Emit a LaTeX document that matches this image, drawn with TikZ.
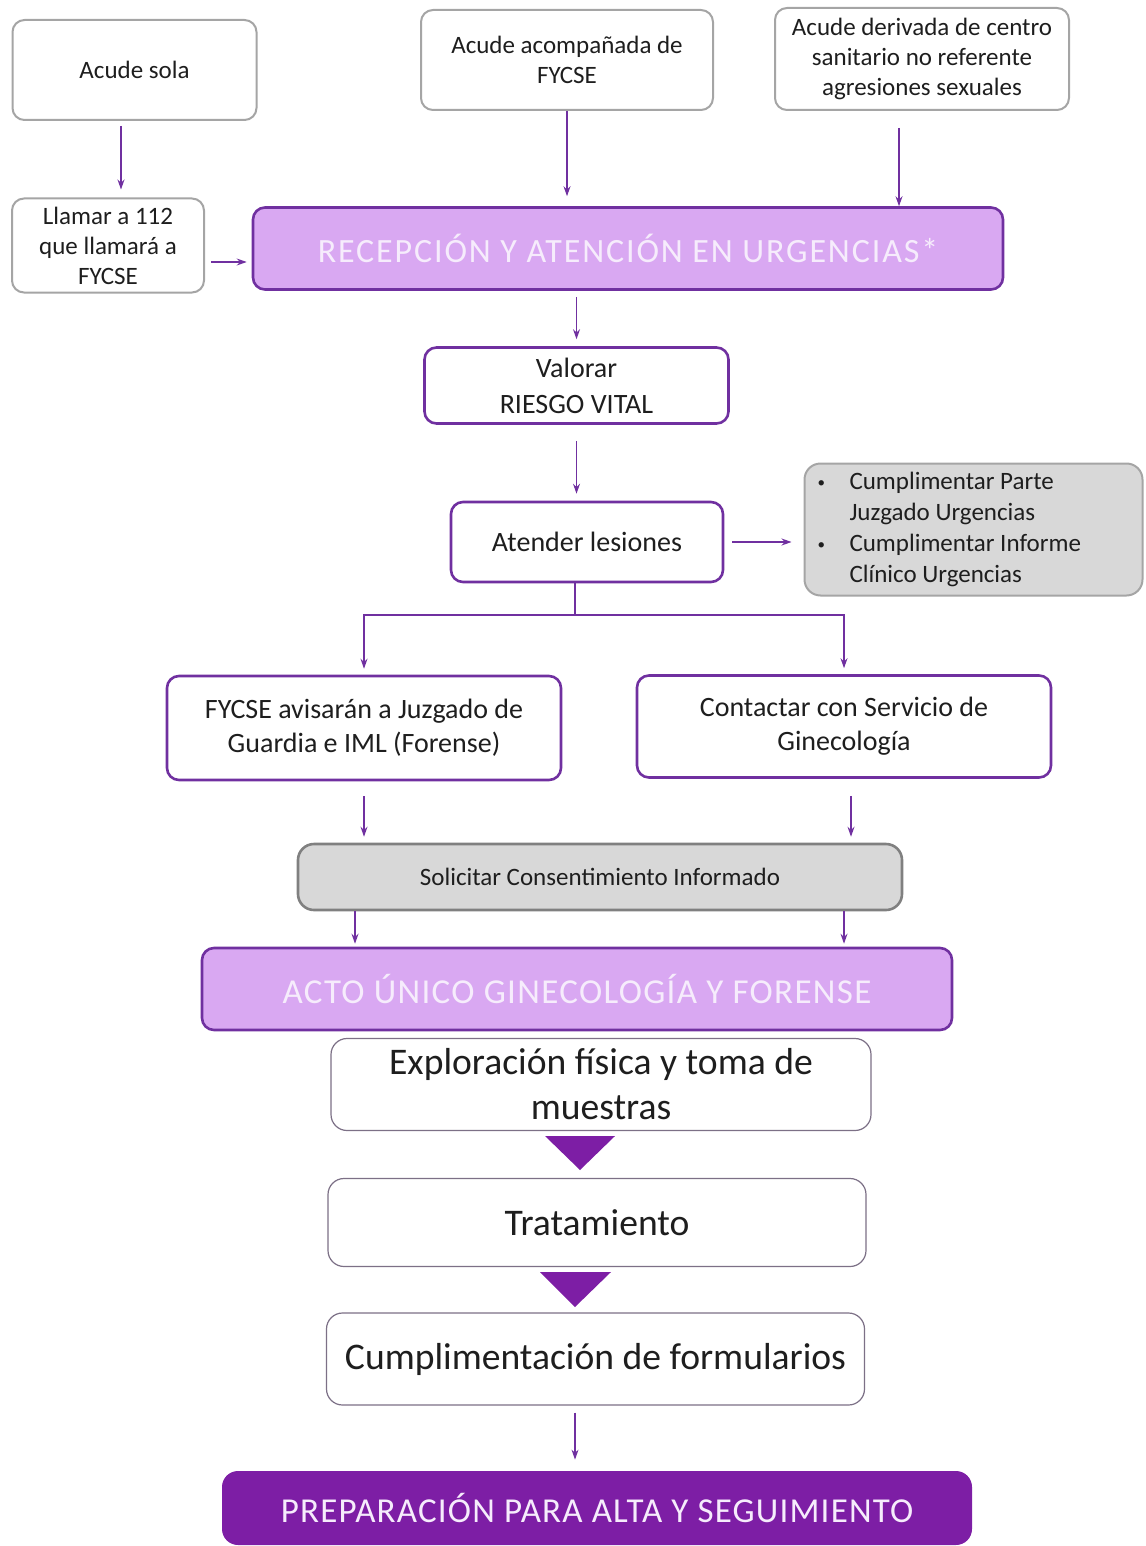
\documentclass[tikz,border=0pt]{standalone}
\usepackage{fontspec}
\usepackage{graphicx}
\setmainfont{Carlito}
\usetikzlibrary{arrows.meta, calc}
\definecolor{violetline}{RGB}{112,48,160}
\definecolor{lilac}{RGB}{217,168,242}
\definecolor{lilactext}{RGB}{246,236,252}
\definecolor{deeppurple}{RGB}{125,30,165}
\definecolor{boxgray}{RGB}{165,165,165}
\definecolor{notegray}{RGB}{216,216,216}
\definecolor{textdark}{RGB}{30,30,30}
\newcommand{\dotitem}{\makebox[16pt][l]{\raisebox{0.15ex}{\scalebox{0.6}{\textbullet}}}}

\begin{document}
\begin{tikzpicture}[x=0.5pt,y=-0.5pt,
  entrybox/.style={draw=boxgray, line width=1pt, rounded corners=6pt, fill=white, align=center, text=textdark, font=\fontsize{12.5}{15}\selectfont},
  taskbox/.style={draw=violetline, line width=1.3pt, rounded corners=6pt, fill=white, align=center, text=textdark, font=\fontsize{14}{17}\selectfont},
  phasebox/.style={draw=violetline, line width=1.3pt, rounded corners=6pt, fill=lilac, text=lilactext, font=\fontsize{17}{19}\selectfont\addfontfeature{LetterSpace=5.5}},
  notebox/.style={draw=boxgray, line width=1pt, rounded corners=8pt, fill=notegray, text=textdark},
  actbox/.style={draw=gray!80!violetline, line width=0.6pt, rounded corners=8pt, fill=white, align=center, text=textdark, font=\fontsize{18.8}{22.5}\selectfont},
  arr/.style={-{Stealth[length=5pt,width=3.5pt]}, draw=violetline, line width=0.6pt},
]
\useasboundingbox (0,0) rectangle (1145,1546);

% ways of arriving
\node[entrybox, minimum width=122pt, minimum height=50pt] (sola) at (134.5,70) {Acude sola};
\node[entrybox, minimum width=146pt, minimum height=50pt] (acomp) at (567,60) {Acude acompañada de\\FYCSE};
\node[entrybox, minimum width=147pt, minimum height=51pt] (deriv) at (922,59) {Acude derivada de centro\\sanitario no referente\\agresiones sexuales};
\node[entrybox, minimum width=96pt, minimum height=47pt, inner sep=1pt] (llamar) at (108,245.5) {Llamar a 112\\que llamará a\\FYCSE};

% urgencias
\node[phasebox, minimum width=375pt, minimum height=41pt] (recep) at (628,248.5) {RECEPCIÓN Y ATENCIÓN EN URGENCIAS*};
\node[taskbox, minimum width=152pt, minimum height=38pt, font=\fontsize{14}{18}\selectfont] (valorar) at (576.5,385.5) {Valorar\\RIESGO VITAL};
\node[taskbox, minimum width=136pt, minimum height=40pt] (atender) at (587,542) {Atender lesiones};
\node[notebox, minimum width=169pt, minimum height=66pt, text width=156pt, align=flush left, font=\fontsize{12.5}{15.5}\selectfont] (partes) at (973.5,529.5)
  {\dotitem Cumplimentar Parte\\\hspace*{16pt}Juzgado Urgencias\\\dotitem Cumplimentar Informe\\\hspace*{16pt}Clínico Urgencias};

\node[taskbox, minimum width=197pt, minimum height=52pt] (fycse) at (364,728) {FYCSE avisarán a Juzgado de\\Guardia e IML (Forense)};
\node[taskbox, minimum width=207pt, minimum height=51pt] (contactar) at (844,726.5) {Contactar con Servicio de\\Ginecología};
\node[notebox, draw=gray, line width=1.3pt, minimum width=302pt, minimum height=33pt, font=\fontsize{12.5}{14}\selectfont] (consent) at (600,877) {Solicitar Consentimiento Informado};

% acto unico
\node[phasebox, minimum width=375pt, minimum height=41pt, font=\fontsize{17.5}{19}\selectfont\addfontfeature{LetterSpace=3.8}] (acto) at (577,989) {ACTO ÚNICO GINECOLOGÍA Y FORENSE};
\node[actbox, minimum width=270pt, minimum height=46pt] (explor) at (601,1084.5) {Exploración física y toma de\\muestras};
\node[actbox, minimum width=269pt, minimum height=44pt] (trat) at (597,1222.5) {Tratamiento};
\node[actbox, minimum width=269pt, minimum height=46pt] (cumpl) at (595.5,1359) {Cumplimentación de formularios};
\node[fill=deeppurple, rounded corners=8pt, text=lilactext, minimum width=375pt, minimum height=37pt, font=\fontsize{17.5}{19}\selectfont\addfontfeature{LetterSpace=3.4}] (prep) at (597,1508) {PREPARACIÓN PARA ALTA Y SEGUIMIENTO};

\fill[deeppurple] (545,1136) -- (615,1136) -- (580,1170) -- cycle;
\fill[deeppurple] (540,1272) -- (611,1272) -- (575,1307) -- cycle;

% connectors
\draw[arr, shorten <=2.5pt, shorten >=4pt] ([xshift=-6.75pt]sola.south) -- ([xshift=-6.75pt]sola.south |- llamar.north);
\draw[arr, shorten >=5pt] (acomp.south) -- (acomp.south |- recep.north);
\draw[arr, shorten <=8.5pt] ([xshift=-11.5pt]deriv.south) -- ([xshift=-11.5pt]deriv.south |- recep.north);
\draw[arr, shorten <=3pt, shorten >=2.5pt] ([yshift=-8.25pt]llamar.east) -- ([yshift=-8.25pt]llamar.east -| recep.west);
\draw[arr, shorten <=3pt, shorten >=3.5pt] (valorar.north |- recep.south) -- (valorar.north);
\draw[arr, shorten <=8pt, shorten >=3.5pt] (valorar.south) -- (valorar.south |- atender.north);
\draw[arr, shorten <=4pt, shorten >=6pt] (atender.east) -- (atender.east -| partes.west);

\coordinate (split) at (575,615);
\draw[violetline, line width=0.6pt] (split |- atender.south) -- (split);
\draw[arr, shorten >=3pt] (split) -| (fycse.north);
\draw[arr, shorten >=3pt] (split) -| (contactar.north);

\draw[arr, shorten <=7.5pt, shorten >=3pt] (fycse.south) -- (fycse.south |- consent.north);
\draw[arr, shorten <=8.5pt, shorten >=3pt] ([xshift=3.5pt]contactar.south) -- ([xshift=3.5pt]contactar.south |- consent.north);
\draw[arr, shorten >=1.5pt] ([xshift=-4.5pt]fycse.south |- consent.south) -- ([xshift=-4.5pt]fycse.south |- acto.north);
\draw[arr, shorten >=1.5pt] (contactar.south |- consent.south) -- (contactar.south |- acto.north);
\draw[arr, shorten <=3.5pt, shorten >=5.5pt] ([xshift=-10.25pt]cumpl.south) -- ([xshift=-10.25pt]cumpl.south |- prep.north);
\end{tikzpicture}
\end{document}
